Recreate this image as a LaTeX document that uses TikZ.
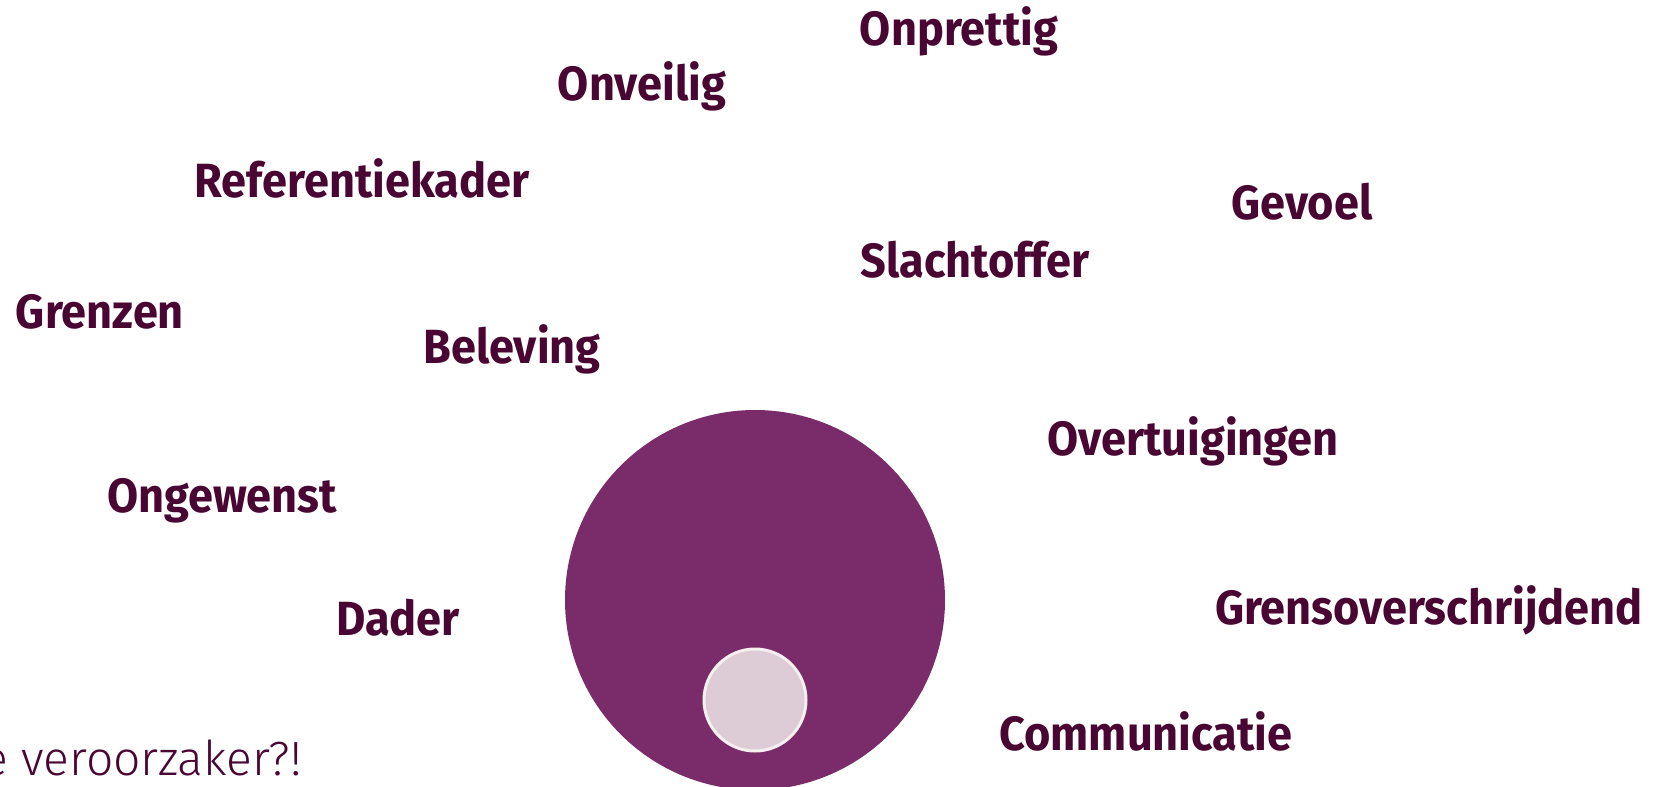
\documentclass[tikz,border=0pt]{standalone}
\usepackage{fontspec}
\setmainfont{Fira Sans}
\newfontfamily\wordfont{Fira Sans}[FakeStretch=0.94]
\newfontfamily\lightfont{Fira Sans}[UprightFont=* Light]
\definecolor{plum}{HTML}{4A0632}
\definecolor{wheelpurple}{HTML}{7A2B69}
\definecolor{corepink}{HTML}{DDCBD6}
\definecolor{coreline}{HTML}{F5F0EF}
\begin{document}
\begin{tikzpicture}[x=1pt,y=-1pt,
    word/.style={text=plum, inner sep=0pt, anchor=base, font=\wordfont\bfseries\fontsize{48}{50}\selectfont}]
    \useasboundingbox (0,0) rectangle (1660,787);
    \clip (0,0) rectangle (1660,787);

    % circles
    \node[circle, fill=wheelpurple, minimum size=380pt, inner sep=0pt] (wheel) at (755, 600) {};
    \node[circle, fill=corepink, draw=coreline, line width=3pt, minimum size=102pt, inner sep=0pt] (core) at (755, 700) {};

    % left words
    \node[word] (onveilig) at (642, 100) {Onveilig};
    \node[word] (referentiekader) at (362, 197) {Referentiekader};
    \node[word] (grenzen) at (100, 328) {Grenzen};
    \node[word] (beleving) at (512, 363) {Beleving};
    \node[word] (ongewenst) at (222, 512) {Ongewenst};
    \node[word] (dader) at (398, 635) {Dader};

    % right words
    \node[word] (onprettig) at (959, 45) {Onprettig};
    \node[word] (gevoel) at (1302, 219) {Gevoel};
    \node[word] (slachtoffer) at (975, 277) {Slachtoffer};
    \node[word] (overtuigingen) at (1193, 455) {Overtuigingen};
    \node[word] (grensoverschrijdend) at (1429, 624) {Grensoverschrijdend};
    \node[word] (communicatie) at (1146, 750) {Communicatie};

    % question
    \node[text=plum, inner sep=0pt, anchor=base east, font=\lightfont\fontsize{48}{50}\selectfont] (vraag) at (302, 775) {e veroorzaker?!};
\end{tikzpicture}
\end{document}
